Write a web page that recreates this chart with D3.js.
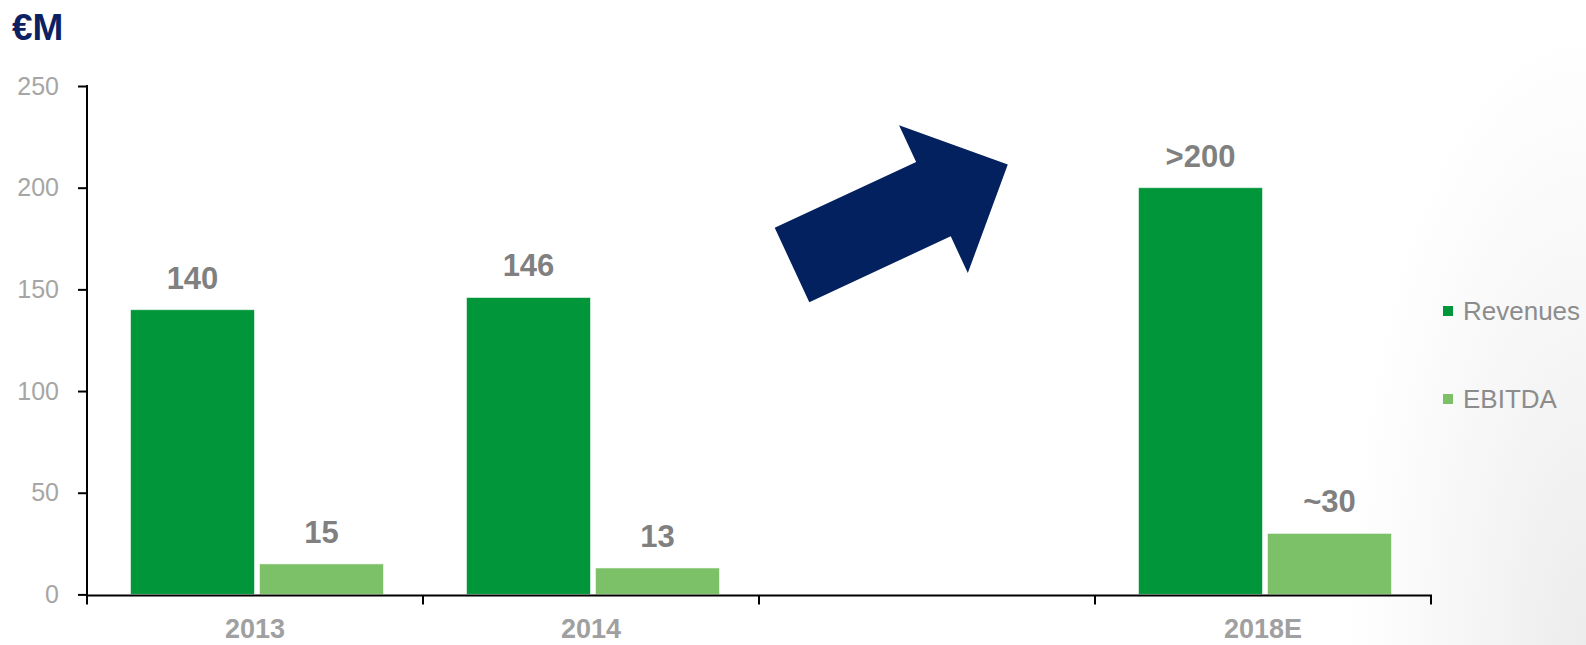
<!DOCTYPE html>
<html>
<head>
<meta charset="utf-8">
<script src="https://cdn.jsdelivr.net/npm/d3@7/dist/d3.min.js"></script>
<style>
  html, body { margin: 0; padding: 0; background: #ffffff; }
  svg { display: block; }
</style>
</head>
<body>
<svg id="chart" width="1586" height="645"></svg>
<script>
// Chart data
const categories = ["2013", "2014", "", "2018E"];
const seriesNames = ["Revenues", "EBITDA"];
const revenues = [140, 146, null, 200];
const ebitda = [15, 13, null, 30];
const revenueLabels = ["140", "146", "", ">200"];
const ebitdaLabels = ["15", "13", "", "~30"];
const yTicks = [0, 50, 100, 150, 200, 250];
const unitLabel = "€M";

const colors = { Revenues: "#009639", EBITDA: "#7cc067" };

const W = 1586, H = 645;
const svg = d3.select("#chart");

// soft shading toward the lower right corner
const defs = svg.append("defs");
const rg = defs.append("radialGradient")
  .attr("id", "shade")
  .attr("gradientUnits", "userSpaceOnUse")
  .attr("cx", W).attr("cy", H).attr("r", 240)
  .attr("gradientTransform", `translate(${W},${H}) scale(1,2.6) translate(${-W},${-H})`);
rg.append("stop").attr("offset", 0).attr("stop-color", "#ececec");
rg.append("stop").attr("offset", 0.5).attr("stop-color", "#f6f6f6");
rg.append("stop").attr("offset", 1).attr("stop-color", "#ffffff");
svg.append("rect").attr("width", W).attr("height", H).attr("fill", "url(#shade)");

// scales
const x = d3.scaleBand().domain(categories.map((c, i) => i)).range([87, 1431]).padding(0);
const y = d3.scaleLinear().domain([0, 250]).range([594.4, 86]);
const xs = d3.scaleBand().domain(seriesNames).range([0, x.bandwidth()])
  .paddingInner(0.0388).paddingOuter(0.3217);
const groupShift = 2;

// rows for bars
const rows = [];
categories.forEach((c, i) => {
  if (revenues[i] != null) rows.push({ i, s: "Revenues", v: revenues[i], label: revenueLabels[i] });
  if (ebitda[i] != null) rows.push({ i, s: "EBITDA", v: ebitda[i], label: ebitdaLabels[i] });
});

// bars
svg.append("g").selectAll("rect").data(rows).join("rect")
  .attr("x", d => x(d.i) + xs(d.s) + groupShift)
  .attr("y", d => y(d.v))
  .attr("width", xs.bandwidth())
  .attr("height", d => y(0) - y(d.v))
  .attr("fill", d => colors[d.s])
  .attr("stroke", "rgba(255,255,255,0.55)")
  .attr("stroke-width", 1);

// value labels
svg.append("g").selectAll("text").data(rows).join("text")
  .attr("x", d => x(d.i) + xs(d.s) + groupShift + xs.bandwidth() / 2)
  .attr("y", d => y(d.v) - 21)
  .attr("text-anchor", "middle")
  .attr("font-family", "'Liberation Sans', Arial, sans-serif")
  .attr("font-weight", "bold")
  .attr("font-size", 31)
  .attr("fill", "#808080")
  .text(d => d.label);

// y axis
const yAxis = svg.append("g")
  .attr("transform", `translate(${x.range()[0]},0)`)
  .call(d3.axisLeft(y).tickValues(yTicks).tickSize(9).tickSizeOuter(0).tickPadding(19));
yAxis.select(".domain").attr("stroke", "#000").attr("stroke-width", 2)
  .attr("d", `M0,${y(250) - 1}V${y(0) + 1}`);
yAxis.selectAll(".tick line").attr("stroke", "#000").attr("stroke-width", 2);
yAxis.selectAll(".tick text")
  .attr("font-family", "'Liberation Sans', Arial, sans-serif")
  .attr("font-size", 25)
  .attr("fill", "#a6a6a6");

// x axis: baseline, ticks at band boundaries, labels at band centres
const xAxisY = y(0) + 1;
const xg = svg.append("g");
xg.append("line")
  .attr("x1", x.range()[0] - 1).attr("x2", x.range()[1] + 1)
  .attr("y1", xAxisY).attr("y2", xAxisY)
  .attr("stroke", "#000").attr("stroke-width", 2);
const bounds = categories.map((c, i) => x(i)).concat([x.range()[1]]);
xg.selectAll("line.tk").data(bounds).join("line").attr("class", "tk")
  .attr("x1", d => d).attr("x2", d => d)
  .attr("y1", xAxisY).attr("y2", xAxisY + 9)
  .attr("stroke", "#000").attr("stroke-width", 2);
xg.selectAll("text").data(categories).join("text")
  .attr("x", (c, i) => x(i) + x.bandwidth() / 2)
  .attr("y", 638)
  .attr("text-anchor", "middle")
  .attr("font-family", "'Liberation Sans', Arial, sans-serif")
  .attr("font-weight", "bold")
  .attr("font-size", 27)
  .attr("fill", "#a0a0a0")
  .text(c => c);

// unit title
svg.append("text")
  .attr("x", 12).attr("y", 40)
  .attr("font-family", "'Liberation Sans', Arial, sans-serif")
  .attr("font-weight", "bold")
  .attr("font-size", 37)
  .attr("fill", "#0c2161")
  .text(unitLabel);

// growth arrow in the gap band
const arrowLen = 238, shaftW = 82, headW = 163, headLen = 82;
const arrowPts = [
  [0, -shaftW / 2], [arrowLen - headLen, -shaftW / 2], [arrowLen - headLen, -headW / 2],
  [arrowLen, 0],
  [arrowLen - headLen, headW / 2], [arrowLen - headLen, shaftW / 2], [0, shaftW / 2]
];
svg.append("polygon")
  .attr("points", arrowPts.map(p => p.join(",")).join(" "))
  .attr("fill", "#04215f")
  .attr("transform", `translate(${x(2) + 33},${y(162)}) rotate(-24.95)`);

// legend
const lg = svg.append("g").selectAll("g").data(seriesNames).join("g")
  .attr("transform", (d, i) => `translate(1443,${311 + i * 88})`);
lg.append("rect").attr("x", 0).attr("y", -5).attr("width", 10).attr("height", 10)
  .attr("fill", d => colors[d]);
lg.append("text").attr("x", 20).attr("y", 0).attr("dy", "0.36em")
  .attr("font-family", "'Liberation Sans', Arial, sans-serif")
  .attr("font-size", 26)
  .attr("fill", "#8c8c8c")
  .text(d => d);
</script>
</body>
</html>
